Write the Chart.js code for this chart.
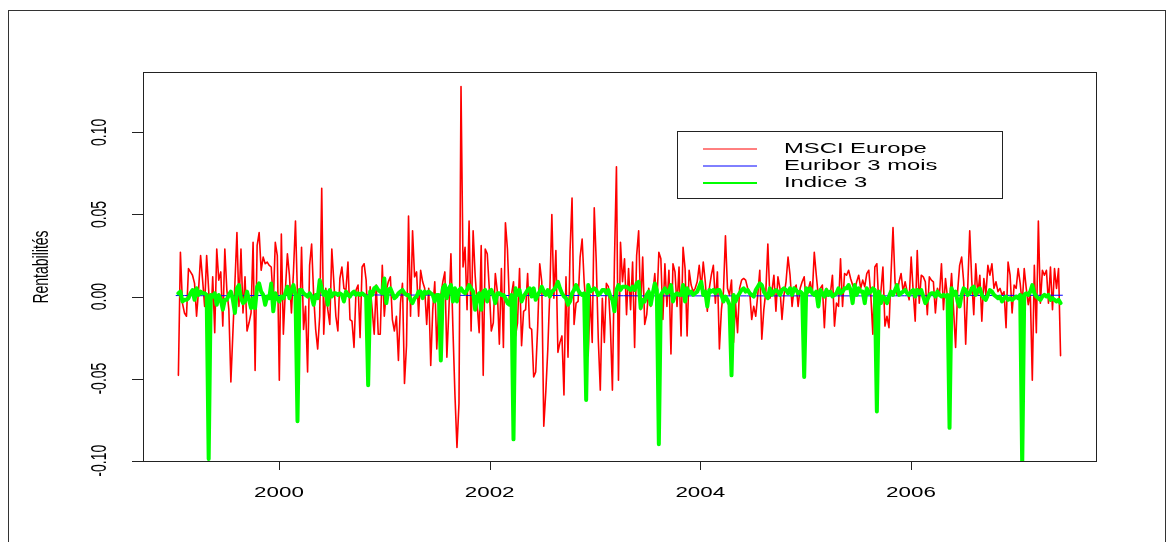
<!DOCTYPE html>
<html><head><meta charset="utf-8">
<script src="https://cdn.jsdelivr.net/npm/chart.js@4.4.1/dist/chart.umd.min.js"></script>
<style>html,body{margin:0;padding:0;background:#fff;}canvas{display:block;}</style>
</head><body>
<canvas id="c" width="1173" height="542" style="width:1173px;height:542px"></canvas>
<script>
// ---------------- data ----------------
const seriesLabels = ['MSCI Europe', 'Euribor 3 mois', 'Indice 3'];
const firstWeek = 1999.045;          // decimal year of the first weekly observation
const firstMonth = 1999.021;         // decimal year of the first monthly observation
const yearAxisLabel = 'Rentabilités';

// weekly returns, MSCI Europe (438 weeks)
const msciEurope = [
 -0.048, 0.027,-0.004,-0.010,-0.012, 0.017, 0.015, 0.013, 0.008,-0.012,
  0.004, 0.025, 0.010,-0.006, 0.025, 0.004,-0.018, 0.012,-0.022, 0.029,
  0.010, 0.015,-0.018, 0.029, 0.004,-0.008,-0.052,-0.022, 0.008, 0.039,
 -0.006, 0.029,-0.010, 0.012,-0.021,-0.016,-0.010, 0.033,-0.045, 0.031,
  0.039, 0.016, 0.024, 0.020, 0.021, 0.019, 0.018,-0.004,
  0.033, 0.025,-0.051, 0.038,-0.023, 0.004, 0.026, 0.013,-0.010, 0.015,
  0.046, 0.000,-0.022, 0.030,-0.020,-0.006,-0.046, 0.019, 0.032, 0.001,
 -0.020,-0.032,-0.012, 0.066,-0.023, 0.005,-0.008,-0.017, 0.029, 0.009,
 -0.012,-0.021, 0.011, 0.018, 0.005, 0.004, 0.021,-0.014,-0.015,-0.031,
  0.004, 0.007,-0.025, 0.018, 0.020, 0.010,-0.020, 0.006,-0.008,-0.023,
  0.007,-0.023,
 -0.023, 0.019,-0.012, 0.004, 0.009, 0.012,-0.014,-0.021,-0.012,-0.039,
 -0.004, 0.008,-0.053,-0.030, 0.049,-0.012, 0.040, 0.012, 0.015,-0.012,
  0.016, 0.009, 0.005,-0.017, 0.005,-0.042,-0.008, 0.009,-0.032,-0.004,
  0.001, 0.009, 0.015,-0.037,-0.008, 0.026,-0.020,-0.060,-0.092,-0.065,
  0.128, 0.018, 0.030,-0.008, 0.046,-0.021, 0.040, 0.013,-0.005,-0.022,
  0.031,-0.048,
  0.029, 0.026, 0.005,-0.021,-0.016, 0.014, 0.003,-0.029, 0.017,-0.031,
  0.045, 0.029,-0.005, 0.001, 0.009,-0.024,-0.016, 0.017,-0.030,-0.009,
 -0.008, 0.014,-0.019,-0.020,-0.049,-0.046,-0.018, 0.020, 0.009,-0.079,
 -0.058,-0.032, 0.003, 0.050,-0.001, 0.028,-0.034,-0.028,-0.024,-0.060,
  0.012,-0.037, 0.027, 0.060,-0.017,-0.004,-0.003, 0.024, 0.035, 0.009,
 -0.007,-0.036,
  0.001,-0.028, 0.054, 0.021,-0.026,-0.057,-0.001,-0.028, 0.008, 0.006,
 -0.018,-0.057, 0.021, 0.079,-0.051, 0.033, 0.009, 0.023,-0.011, 0.017,
 -0.008, 0.021,-0.031, 0.025, 0.040,-0.008, 0.024,-0.017,-0.011, 0.005,
 -0.006, 0.002, 0.014,-0.006, 0.027, 0.023,-0.014, 0.020,-0.006, 0.016,
 -0.035, 0.020, 0.015,-0.006, 0.018,-0.024, 0.030, 0.017,-0.024, 0.016,
  0.007, 0.003,
  0.005, 0.009, 0.019, 0.005, 0.021, 0.009,-0.009, 0.005, 0.013, 0.019,
 -0.004, 0.015,-0.032,-0.008, 0.003, 0.037, 0.005, 0.001, 0.010,-0.028,
 -0.004,-0.022, 0.005, 0.010, 0.011, 0.010, 0.005, 0.003,-0.014,-0.006,
 -0.012, 0.001, 0.016,-0.026,-0.008, 0.003, 0.032,-0.001, 0.003, 0.013,
 -0.009, 0.012, 0.005,-0.014, 0.001, 0.009, 0.024, 0.013,-0.006, 0.005,
  0.007,-0.006,
  0.005, 0.009, 0.012,-0.004, 0.004, 0.009, 0.001, 0.027, 0.013, 0.000,
  0.005, 0.007,-0.019, 0.005, 0.003, 0.002, 0.013,-0.018,-0.004,-0.006,
  0.023,-0.006, 0.014, 0.013, 0.016, 0.011, 0.007, 0.004, 0.009, 0.013,
  0.005, 0.010, 0.006, 0.014, 0.016, 0.001,-0.023, 0.018, 0.020,-0.006,
  0.003, 0.018,-0.018,-0.012,-0.019, 0.013, 0.042, 0.009, 0.001, 0.009,
  0.014, 0.003,
  0.009, 0.003,-0.002, 0.024, 0.003,-0.015, 0.028,-0.004, 0.013, 0.012,
  0.009,-0.011, 0.012, 0.010, 0.009,-0.010, 0.005, 0.001, 0.020,-0.008,
  0.011,-0.001,-0.004, 0.014,-0.008,-0.031, 0.003, 0.019, 0.024, 0.009,
 -0.029, 0.005, 0.040, 0.010,-0.011, 0.020, 0.001, 0.013,-0.015, 0.011,
  0.001, 0.019, 0.013, 0.020, 0.005, 0.009, 0.003, 0.005, 0.001, 0.003,
 -0.019, 0.021,
  0.013,-0.010, 0.007, 0.005, 0.017, 0.008,-0.005, 0.017, 0.005,-0.005,
  0.003,-0.051, 0.019,-0.022, 0.046,-0.004, 0.016, 0.013, 0.016,-0.004,
  0.018,-0.008, 0.017, 0.005, 0.017,-0.036
];

// weekly returns, Indice 3 (438 weeks)
const indice3 = [
  0.002, 0.003,-0.003,-0.002,-0.002,-0.001, 0.002, 0.004,-0.002, 0.005,
  0.001, 0.003, 0.002, 0.002, 0.001,-0.099, 0.001, 0.000, 0.002,-0.005,
  0.001,-0.002,-0.008,-0.002,-0.002, 0.001, 0.003,-0.002,-0.010, 0.005,
  0.007,-0.001,-0.004,-0.003, 0.003,-0.002,-0.007,-0.001,-0.007, 0.006,
  0.008, 0.003, 0.001,-0.005, 0.000,-0.001, 0.008,-0.009,
  0.002,-0.001,-0.003, 0.000,-0.001, 0.002, 0.006,-0.001, 0.004, 0.007,
  0.001,-0.076, 0.004, 0.004, 0.002, 0.001, 0.000, 0.002, 0.000,-0.005,
  0.001,-0.001, 0.010, 0.005, 0.001, 0.003,-0.005, 0.004, 0.000, 0.002,
  0.002, 0.001, 0.002, 0.001,-0.003, 0.003, 0.001, 0.000, 0.002, 0.003,
  0.001, 0.002, 0.001, 0.002, 0.001, 0.000,-0.054, 0.003, 0.001, 0.005,
  0.006, 0.004,
  0.003, 0.002, 0.011,-0.004, 0.004, 0.005, 0.002,-0.001, 0.000, 0.002,
  0.003, 0.004, 0.002, 0.001, 0.001,-0.002,-0.004,-0.001, 0.000, 0.003,
  0.003,-0.001, 0.003, 0.002, 0.003, 0.002, 0.001,-0.003, 0.001, 0.001,
 -0.039, 0.005, 0.007,-0.001, 0.005, 0.007,-0.003, 0.005,-0.003, 0.004,
  0.005, 0.003, 0.002, 0.004, 0.007, 0.005, 0.003,-0.008, 0.000, 0.002,
 -0.008, 0.003,
  0.004,-0.003, 0.003, 0.004, 0.001,-0.004, 0.002, 0.002, 0.001, 0.001,
 -0.001,-0.004,-0.005, 0.001,-0.087, 0.005, 0.001, 0.004,-0.003, 0.000,
  0.002, 0.004, 0.005, 0.000, 0.005,-0.002, 0.001, 0.003, 0.006, 0.003,
  0.001, 0.004, 0.000, 0.003, 0.004, 0.006, 0.009, 0.005, 0.002, 0.000,
 -0.001,-0.005,-0.003, 0.002, 0.004, 0.007, 0.004, 0.002, 0.001, 0.002,
 -0.063, 0.007,
  0.003, 0.004, 0.005, 0.004, 0.001, 0.002, 0.004, 0.004, 0.002, 0.004,
  0.000,-0.002,-0.009, 0.004, 0.007, 0.004, 0.006, 0.006, 0.006, 0.005,
  0.004, 0.006, 0.004, 0.008, 0.009,-0.007,-0.002,-0.003, 0.001, 0.003,
 -0.005, 0.002, 0.008, 0.004,-0.090, 0.001, 0.003, 0.005, 0.002, 0.003,
  0.007,-0.003, 0.001, 0.002, 0.001, 0.001, 0.007,-0.003, 0.005, 0.002,
  0.003, 0.001,
  0.002, 0.003, 0.006, 0.009, 0.001, 0.003,-0.006, 0.004, 0.003, 0.004,
  0.002, 0.004, 0.004, 0.001,-0.003, 0.000,-0.002,-0.005,-0.048, 0.001,
 -0.003, 0.000, 0.002, 0.004, 0.005, 0.003, 0.004, 0.002, 0.001, 0.000,
  0.004, 0.006, 0.008, 0.007, 0.003, 0.001,-0.001, 0.005, 0.001, 0.003,
  0.004, 0.003, 0.001, 0.004, 0.005, 0.004, 0.002, 0.005, 0.001, 0.005,
  0.004, 0.002,
  0.003, 0.002,-0.049, 0.005, 0.003, 0.005, 0.002, 0.001, 0.003,-0.006,
  0.004, 0.002, 0.000, 0.004, 0.001, 0.003, 0.000, 0.001, 0.002, 0.005,
  0.002, 0.003, 0.005, 0.005, 0.007, 0.004,-0.004, 0.007, 0.001, 0.005,
  0.003, 0.003,-0.004, 0.005, 0.002, 0.003, 0.005, 0.004,-0.070, 0.003,
 -0.004, 0.000,-0.001,-0.004, 0.000, 0.003, 0.001, 0.004, 0.007, 0.001,
  0.002, 0.003,
  0.004, 0.002, 0.001, 0.003, 0.004, 0.000, 0.004, 0.002, 0.004, 0.000,
 -0.004,-0.002, 0.001, 0.002, 0.002, 0.000, 0.003, 0.001, 0.000, 0.001,
  0.000, 0.001,-0.080, 0.005, 0.001, 0.003,-0.003,-0.006, 0.001, 0.005,
  0.004, 0.001, 0.002, 0.005, 0.006, 0.001, 0.004, 0.005, 0.001,-0.001,
 -0.002, 0.001, 0.004, 0.003, 0.001, 0.000,-0.001, 0.000,-0.003,-0.001,
  0.000,-0.002,
 -0.001,-0.002,-0.001, 0.000,-0.001, 0.001,-0.104, 0.001, 0.002, 0.001,
  0.003, 0.007, 0.002, 0.000,-0.001,-0.002, 0.000, 0.001, 0.000, 0.001,
 -0.002,-0.001,-0.002,-0.003,-0.002,-0.004
];

// 3-month Euribor, monthly average in % per year (Jan 1999 - Jun 2007)
const euriborPct = [
  3.13,3.09,3.05,2.70,2.58,2.63,2.68,2.70,2.73,3.38,3.47,3.44,
  3.34,3.54,3.75,3.93,4.36,4.50,4.58,4.78,4.85,5.04,5.09,4.94,
  4.77,4.76,4.71,4.68,4.64,4.45,4.47,4.35,3.98,3.60,3.39,3.34,
  3.34,3.36,3.39,3.41,3.47,3.46,3.41,3.35,3.31,3.26,3.12,2.94,
  2.83,2.69,2.53,2.53,2.40,2.15,2.13,2.14,2.15,2.14,2.16,2.15,
  2.09,2.07,2.03,2.05,2.09,2.11,2.12,2.11,2.12,2.15,2.17,2.17,
  2.15,2.14,2.14,2.14,2.13,2.11,2.12,2.13,2.14,2.20,2.36,2.47,
  2.51,2.60,2.72,2.79,2.89,2.99,3.10,3.23,3.34,3.50,3.60,3.68,
  3.75,3.82,3.89,3.98,4.07,4.15
];

const yTickValues = [-0.10, -0.05, 0.00, 0.05, 0.10];
const yTickLabels = ['-0.10', '-0.05', '0.00', '0.05', '0.10'];
const xTickValues = [2000, 2002, 2004, 2006];
const xTickLabels = ['2000', '2002', '2004', '2006'];

// weekly dates (decimal years) and monthly dates
const weeks = msciEurope.map((_, i) => firstWeek + i * 7 / 365.25);
const months = euriborPct.map((_, m) => firstMonth + m / 12);

// ---------------- drawing ----------------
const SX = 1.6;   // the original picture is stretched horizontally
const FONT = '14px "Liberation Sans", Arial, Helvetica, sans-serif';

function txt(ctx, s, x, y, align, rotate, sx) {
  ctx.save();
  ctx.translate(x, y);
  ctx.scale(sx || SX, 1);
  if (rotate) ctx.rotate(-Math.PI / 2);
  ctx.font = FONT;
  ctx.fillStyle = '#000';
  ctx.textAlign = align;
  ctx.textBaseline = 'middle';
  ctx.fillText(s, 0, 0);
  ctx.restore();
}

const rStyle = {
  id: 'rStyle',
  afterDraw(chart) {
    const ctx = chart.ctx;
    const a = chart.chartArea;
    const xs = chart.scales.x, ys = chart.scales.y;
    ctx.save();
    // outer frame
    ctx.strokeStyle = '#333';
    ctx.lineWidth = 1;
    ctx.strokeRect(8.5, 10.5, 1157, 540);
    // plot box
    ctx.strokeStyle = '#222';
    ctx.strokeRect(a.left + 0.5, a.top + 0.5, a.right - a.left - 1, a.bottom - a.top - 1);
    // ticks
    ctx.beginPath();
    yTickValues.forEach((v) => {
      const py = Math.round(ys.getPixelForValue(v)) + 0.5;
      ctx.moveTo(a.left - 11, py); ctx.lineTo(a.left, py);
    });
    xTickValues.forEach((v) => {
      const px = Math.round(xs.getPixelForValue(v)) + 0.5;
      ctx.moveTo(px, a.bottom); ctx.lineTo(px, a.bottom + 8);
    });
    ctx.stroke();
    yTickValues.forEach((v, i) => {
      txt(ctx, yTickLabels[i], 100, ys.getPixelForValue(v), 'center', true);
    });
    xTickValues.forEach((v, i) => {
      txt(ctx, xTickLabels[i], xs.getPixelForValue(v), 493, 'center', false);
    });
    // y title
    txt(ctx, yearAxisLabel, 42, (a.top + a.bottom) / 2, 'center', true);
    // legend
    ctx.fillStyle = '#fff';
    ctx.fillRect(677, 131, 326, 68);
    ctx.strokeStyle = '#222';
    ctx.lineWidth = 1;
    ctx.strokeRect(677.5, 131.5, 325, 67);
    const ds = chart.data.datasets;
    const rows = [149, 166, 183];
    ds.forEach((d, i) => {
      ctx.strokeStyle = d.borderColor;
      ctx.lineWidth = i === 2 ? 2 : 1;
      ctx.beginPath();
      ctx.moveTo(703, rows[i]); ctx.lineTo(757, rows[i]);
      ctx.stroke();
      txt(ctx, d.label, 784, rows[i], 'left', false, 1.7);
    });
    ctx.restore();
  }
};

new Chart(document.getElementById('c').getContext('2d'), {
  type: 'line',
  data: {
    datasets: [
      { label: seriesLabels[0], data: weeks.map((w, i) => ({ x: w, y: msciEurope[i] })),
        borderColor: '#ff0000', borderWidth: 1.6, order: 3, clip: 0 },
      { label: seriesLabels[1], data: months.map((m, i) => ({ x: m, y: euriborPct[i] / 100 / 52 })),
        borderColor: '#0000ff', borderWidth: 1, order: 2, clip: 0 },
      { label: seriesLabels[2], data: weeks.map((w, i) => ({ x: w, y: indice3[i] })),
        borderColor: '#00ff00', borderWidth: 4, order: 1, clip: 0 }
    ]
  },
  options: {
    responsive: false,
    animation: false,
    devicePixelRatio: 1,
    events: [],
    layout: { padding: { left: 143, top: 72, right: 76, bottom: 80 } },
    plugins: { legend: { display: false }, tooltip: { enabled: false }, title: { display: false } },
    elements: { point: { radius: 0 }, line: { tension: 0, borderJoinStyle: 'round', borderCapStyle: 'round', fill: false } },
    scales: {
      x: { type: 'linear', min: 1998.709, max: 2007.766, display: false },
      y: { type: 'linear', min: -0.1008, max: 0.1368, display: false }
    }
  },
  plugins: [rStyle]
});
</script>
</body></html>
